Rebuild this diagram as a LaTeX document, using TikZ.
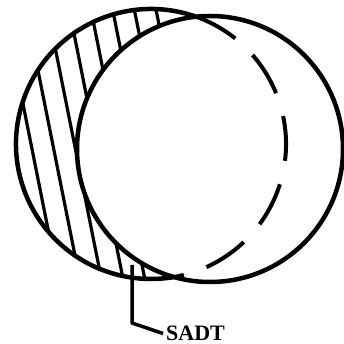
\documentclass[tikz,border=0pt]{standalone}
\usepackage{fontspec}
\setmainfont{Liberation Serif}
\usetikzlibrary{positioning}
\begin{document}
\begin{tikzpicture}[x=1pt,y=1pt,
    rim/.style={line width=4.5pt},
    hatchline/.style={line width=3.2pt},
    dashrim/.style={line width=4pt,dash pattern=on 45pt off 24pt},
    leader/.style={line width=3.5pt,line join=round},
    every node/.style={font=\fontsize{22}{24}\selectfont\bfseries}]
    \useasboundingbox (0,0) rectangle (344,344);
    % centres of the two circles
    \coordinate (left) at (151,200);
    \coordinate (right) at (210,195);

    % hatched crescent: left circle minus right circle
    \begin{scope}
      \clip (left) circle (135);
      \foreach \k in {0,...,7} {
        \pgfmathsetmacro{\xa}{31+21.7*\k}
        \draw[hatchline] (\xa-28.8,344) -- (\xa+40,0);
      }
      \fill[white] (right) circle (133);
    \end{scope}

    % right circle, solid all round
    \draw[rim] (right) circle (133);
    % left circle: solid outside, dashed where it runs inside the right one
    \draw[rim] (left) ++(70.5:135) arc[start angle=70.5,end angle=279.8,radius=135];
    \draw[dashrim] (left) ++(70.5:135) arc[start angle=70.5,end angle=-80.2,radius=135];

    % label with its leader
    \node[anchor=west,inner xsep=3pt,inner ysep=0pt] (sadt) at (163,10.5) {SADT};
    \coordinate (tip) at (132,79);
    \coordinate (bend) at (132,21);
    \draw[leader] (tip) -- (bend) -- (sadt.west);
  \end{tikzpicture}
\end{document}
